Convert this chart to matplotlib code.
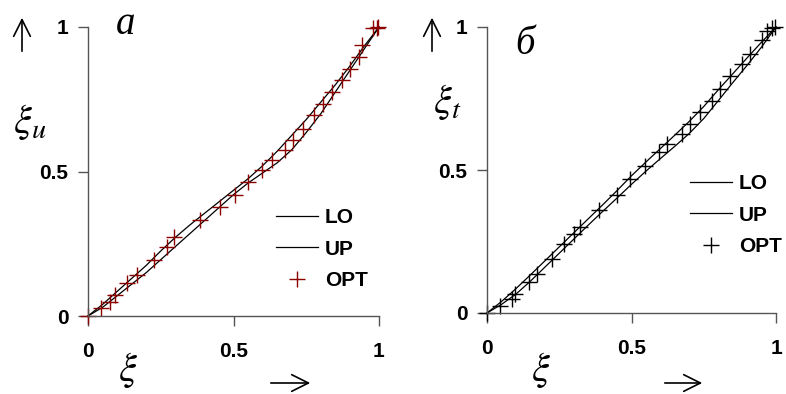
import numpy as np
import matplotlib.pyplot as plt
from matplotlib.patches import FancyArrowPatch

plt.rcParams['mathtext.fontset'] = 'stix'

# grid of xi values for the bound curves
xi = [0.0, 0.05, 0.1, 0.15, 0.2, 0.25, 0.3, 0.35, 0.4, 0.45, 0.5,
      0.55, 0.6, 0.65, 0.7, 0.75, 0.8, 0.85, 0.9, 0.95, 1.0]

# panel a: xi_u
up_a = [0.0, 0.04, 0.085, 0.13, 0.175, 0.225, 0.272, 0.315, 0.355, 0.395, 0.435,
        0.475, 0.52, 0.57, 0.625, 0.68, 0.74, 0.80, 0.865, 0.935, 1.0]
lo_a = [0.0, 0.03, 0.07, 0.11, 0.15, 0.195, 0.24, 0.285, 0.33, 0.375, 0.42,
        0.46, 0.495, 0.53, 0.575, 0.635, 0.70, 0.775, 0.85, 0.925, 1.0]
opt_a_x = [0.0, 0.046, 0.077, 0.094, 0.134, 0.168, 0.226, 0.271, 0.294, 0.386,
           0.454, 0.506, 0.551, 0.597, 0.632, 0.677, 0.706, 0.740, 0.775, 0.809,
           0.838, 0.872, 0.901, 0.930, 0.941, 0.981, 0.992, 0.998]
opt_a_y = [0.0, 0.026, 0.049, 0.072, 0.113, 0.141, 0.193, 0.240, 0.274, 0.332,
           0.378, 0.418, 0.464, 0.505, 0.539, 0.574, 0.608, 0.648, 0.694, 0.735,
           0.776, 0.816, 0.856, 0.896, 0.937, 0.995, 0.998, 1.0]

# panel b: xi_t
up_b = [0.0, 0.04, 0.085, 0.133, 0.182, 0.231, 0.28, 0.329, 0.378, 0.428, 0.48,
        0.528, 0.575, 0.622, 0.67, 0.722, 0.78, 0.836, 0.892, 0.947, 1.0]
lo_b = [0.0, 0.03, 0.066, 0.111, 0.16, 0.209, 0.258, 0.307, 0.355, 0.402, 0.45,
        0.496, 0.54, 0.583, 0.628, 0.68, 0.742, 0.805, 0.866, 0.93, 1.0]
opt_b_x = [0.0, 0.046, 0.087, 0.098, 0.144, 0.173, 0.225, 0.265, 0.300, 0.323,
           0.386, 0.450, 0.496, 0.548, 0.594, 0.623, 0.675, 0.704, 0.738, 0.779,
           0.807, 0.842, 0.882, 0.911, 0.952, 0.969, 0.986, 0.998]
opt_b_y = [0.0, 0.023, 0.050, 0.068, 0.108, 0.138, 0.190, 0.242, 0.277, 0.301,
           0.359, 0.411, 0.469, 0.515, 0.562, 0.592, 0.627, 0.662, 0.702, 0.743,
           0.784, 0.830, 0.870, 0.905, 0.955, 0.985, 0.998, 1.0]

ticks = [0, 0.5, 1]
tick_labels = ['0', '0.5', '1']

W, H = 786, 394
fig = plt.figure(figsize=(W / 100, H / 100), dpi=100)


def px_rect(x0, x1, ytop, ybot):
    return [x0 / W, 1 - ybot / H, (x1 - x0) / W, (ybot - ytop) / H]


def setup_axes(ax):
    for side in ['top', 'right']:
        ax.spines[side].set_visible(False)
    for side in ['left', 'bottom']:
        ax.spines[side].set_color('#555555')
        ax.spines[side].set_linewidth(1.0)
    ax.set_xlim(0, 1)
    ax.set_ylim(0, 1)
    ax.set_xticks(ticks)
    ax.set_yticks(ticks)
    font = dict(fontfamily='Liberation Sans', fontweight='bold', fontsize=15)
    ax.set_xticklabels(tick_labels, **font)
    ax.set_yticklabels(tick_labels, **font)
    ax.tick_params(axis='x', length=7, width=1, color='#555555', pad=12)
    ax.tick_params(axis='y', length=7, width=1, color='#555555', pad=7)
    ax.patch.set_visible(False)


def draw_panel(ax, lo, up, ox, oy, mcolor, anchor):
    ax.plot(xi, lo, color='black', lw=0.9, label='LO', clip_on=False)
    ax.plot(xi, up, color='black', lw=0.9, label='UP', clip_on=False)
    ax.plot(ox, oy, ls='none', marker='+', ms=11, mew=1.0, color=mcolor,
            label='OPT', clip_on=False)
    leg = ax.legend(loc='lower right', bbox_to_anchor=anchor, frameon=False,
                    handlelength=2.0, handletextpad=0.34, labelspacing=0.6,
                    prop={'family': 'Liberation Sans', 'weight': 'bold', 'size': 15})
    return leg


ax1 = fig.add_axes(px_rect(88, 379, 27, 316))
setup_axes(ax1)
draw_panel(ax1, lo_a, up_a, opt_a_x, opt_a_y, '#8b0000', (1.025, 0.025))

ax2 = fig.add_axes(px_rect(487, 776, 27, 313))
setup_axes(ax2)
draw_panel(ax2, lo_b, up_b, opt_b_x, opt_b_y, 'black', (1.085, 0.133))

# axis names and panel letters
serif = 'Liberation Serif'
fig.text(126 / W, 1 - 25 / H, 'a', fontfamily=serif, style='italic', fontsize=28,
         ha='center', va='center')
fig.text(525 / W, 1 - 44 / H, 'б', fontfamily=serif, style='italic', fontsize=28,
         ha='center', va='center')
fig.text(30 / W, 1 - 122 / H, r'$\xi_u$', fontsize=29, ha='center', va='center')
fig.text(447 / W, 1 - 102 / H, r'$\xi_t$', fontsize=29, ha='center', va='center')
fig.text(128 / W, 1 - 370 / H, r'$\xi$', fontsize=29, ha='center', va='center')
fig.text(541 / W, 1 - 370 / H, r'$\xi$', fontsize=29, ha='center', va='center')

arrow = dict(arrowstyle='->', color='black', lw=1.2, mutation_scale=30)
for x in [22, 432]:
    fig.add_artist(FancyArrowPatch((x / W, 1 - 54 / H), (x / W, 1 - 15 / H),
                                   transform=fig.transFigure, **arrow))
for x0, x1 in [(268, 313), (662, 705)]:
    fig.add_artist(FancyArrowPatch((x0 / W, 1 - 383 / H), (x1 / W, 1 - 383 / H),
                                   transform=fig.transFigure, **arrow))

fig.savefig('out.png', dpi=100)
